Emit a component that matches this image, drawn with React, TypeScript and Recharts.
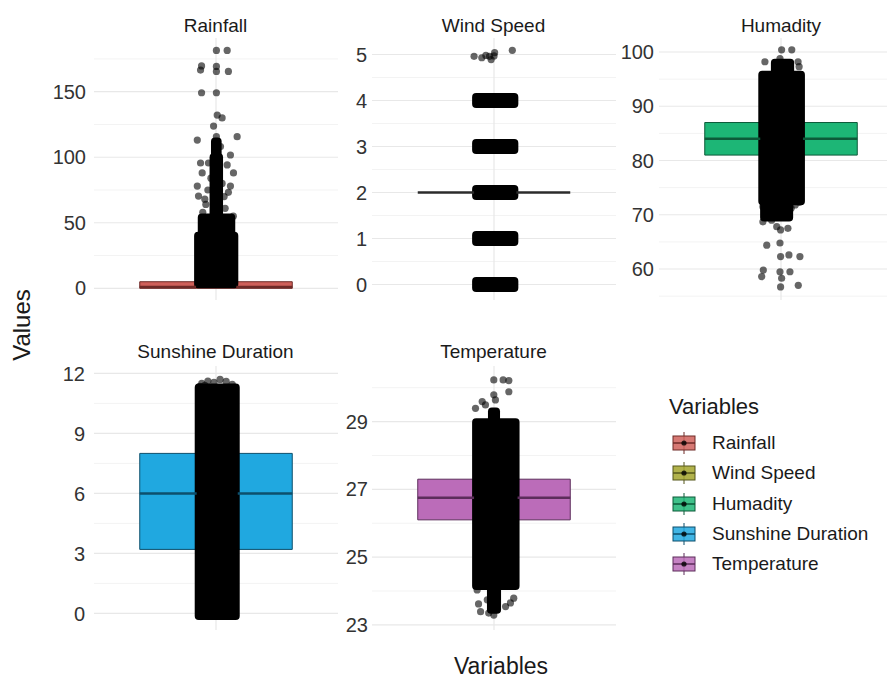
import React from 'react';
import {
  ComposedChart,
  XAxis,
  YAxis,
  CartesianGrid,
  ReferenceArea,
  ReferenceLine,
  Scatter,
} from 'recharts';

const variables = ['Rainfall', 'Wind Speed', 'Humadity', 'Sunshine Duration', 'Temperature'];
const boxFills = ['#cf605a', '#a3a52c', '#1db676', '#20a8e0', '#bb6cb9'];
const boxEdges = ['#6e2a27', '#2b2b2b', '#0c5a39', '#0d4f6c', '#5c2d5b'];

// box stats: [q1, median, q3]
const rainfallBox = [0, 1, 5];
const windBox = [2, 2, 2];
const humidityBox = [81, 84, 87];
const sunshineBox = [3.2, 6, 8];
const temperatureBox = [26.1, 26.75, 27.3];

// y ticks (major) and minor grid values
const rainfallTicks = [0, 50, 100, 150];
const rainfallMinor = [25, 75, 125, 175];
const windTicks = [0, 1, 2, 3, 4, 5];
const windMinor = [0.5, 1.5, 2.5, 3.5, 4.5];
const humidityTicks = [60, 70, 80, 90, 100];
const humidityMinor = [55, 65, 75, 85, 95];
const sunshineTicks = [0, 3, 6, 9, 12];
const sunshineMinor = [1.5, 4.5, 7.5, 10.5];
const temperatureTicks = [23, 25, 27, 29];
const temperatureMinor = [24, 26, 28, 30];

// dense part of the jittered points: [x1, x2, y1, y2]
const rainfallCloud = [
  [0.912, 1.09, 3, 40],
  [0.93, 1.075, 40, 54],
  [0.988, 1.015, 54, 100],
  [0.995, 1.008, 100, 112],
];
const windCloud = [
  [0.912, 1.1, -0.075, 0.075],
  [0.912, 1.1, 0.925, 1.075],
  [0.912, 1.1, 1.925, 2.075],
  [0.912, 1.1, 2.925, 3.075],
  [0.912, 1.1, 3.925, 4.075],
];
const humidityCloud = [
  [0.908, 1.098, 72.5, 95.8],
  [0.917, 1.04, 69.5, 72.5],
  [0.97, 1.045, 95.8, 98],
];
const sunshineCloud = [[0.915, 1.097, -0.13, 11.3]];
const temperatureCloud = [
  [0.912, 1.106, 24.15, 28.98],
  [0.985, 1.015, 23.45, 24.15],
  [0.99, 1.01, 28.98, 29.3],
];

// sparse jittered points: [x, y]
const rainfallPoints = [
  [1.002, 181.5], [1.055, 181.5], [0.929, 169.7], [0.924, 166.5], [1.002, 169.3],
  [1.002, 165.5], [1.061, 165.5], [0.929, 149.2], [1.002, 149.2], [1.006, 132.2],
  [1.03, 130], [0.988, 123.8], [0.908, 113.1], [1.104, 115.7], [1.002, 115.7],
  [1.022, 108.1], [1.071, 101.7], [0.924, 95.6], [0.963, 95.6], [1.055, 94.1],
  [1.086, 88], [0.932, 88], [0.908, 78], [1.071, 78], [0.914, 70.4], [1.061, 73.2],
  [0.95, 64], [1.045, 61], [0.975, 84], [1.012, 91], [0.99, 99], [1.0, 104],
  [0.935, 58], [1.085, 55], [1.03, 80], [0.96, 75], [1.04, 70], [0.945, 68],
];
const windPoints = [
  [0.902, 4.96], [0.94, 4.93], [0.978, 4.96], [0.986, 4.89], [1.003, 5.04],
  [1.09, 5.09], [0.96, 4.98], [1.0, 4.97],
];
const humidityPoints = [
  [1.003, 100.4], [1.053, 100.4], [0.995, 98.8], [0.921, 98.2], [1.084, 98.2],
  [1.089, 97.3], [0.911, 71.5], [0.921, 70], [0.911, 68.7], [0.954, 69],
  [0.979, 67.8], [0.998, 67.2], [1.034, 67.5], [0.995, 64.8], [0.93, 64.4],
  [1.039, 62.6], [1.093, 62.3], [0.998, 62.3], [0.913, 59.8], [0.905, 58.6],
  [0.995, 59.5], [1.003, 58.3], [1.044, 59.5], [1.085, 57], [0.998, 56.7],
  [1.07, 71.8], [1.09, 72.3], [1.05, 71.2],
];
const sunshinePoints = [
  [0.93, 11.5], [0.96, 11.62], [0.99, 11.55], [1.02, 11.7], [1.05, 11.6],
  [1.08, 11.45], [0.945, 11.4], [1.06, 11.3], [0.92, 11.35], [1.09, 11.3],
];
const temperaturePoints = [
  [0.999, 30.23], [1.045, 30.23], [1.073, 30.21], [1.073, 29.88], [0.999, 29.79],
  [0.909, 29.39], [0.942, 29.59], [0.958, 29.49], [0.999, 29.24], [1.007, 29.64],
  [1.096, 28.96], [0.917, 24.03], [0.967, 23.74], [1.007, 23.83], [1.097, 23.79],
  [0.934, 23.39], [0.999, 23.29], [0.974, 23.35], [1.057, 23.54], [1.081, 23.65],
  [0.924, 23.62],
];

const FONT = '"Liberation Sans", Arial, Helvetica, sans-serif';
const PLOT_W = 244;
const AXIS_W = 70;
const PAD = 16;

type PanelProps = {
  idx: number;
  center: number;
  top: number;
  height: number;
  titleY: number;
  domain: number[];
  ticks: number[];
  minor: number[];
  box: number[];
  cloud: number[][];
  points: number[][];
  gap: number;
};

const Dot = (p: any) => <circle cx={p.cx} cy={p.cy} r={3.6} fill="#000" fillOpacity={0.6} />;

function Panel({ idx, center, top, height, titleY, domain, ticks, minor, box, cloud, points, gap }: PanelProps) {
  const fill = boxFills[idx];
  const edge = boxEdges[idx];
  const pts = points.map(([x, y]) => ({ x, y }));
  // the median is hidden behind the point cloud, so draw it on both sides only
  const under = cloud.find((c) => c[2] - 0.02 * (domain[1] - domain[0]) <= box[1] && box[1] <= c[3] + 0.02 * (domain[1] - domain[0]));
  const medianParts = under
    ? [
        [0.625, under[0] - 0.01],
        [under[1] + 0.01, 1.375],
      ]
    : [[0.625, 1.375]];
  return (
    <>
      <div
        style={{
          position: 'absolute',
          left: center - 150,
          width: 300,
          top: titleY - 12,
          lineHeight: '24px',
          textAlign: 'center',
          fontSize: 19,
          color: '#1a1a1a',
        }}
      >
        {variables[idx]}
      </div>
      <div style={{ position: 'absolute', left: center - PLOT_W / 2 - AXIS_W, top: top - PAD }}>
        <ComposedChart
          width={AXIS_W + PLOT_W}
          height={height + PAD * 2}
          margin={{ top: PAD, right: 0, bottom: PAD, left: 0 }}
        >
          <CartesianGrid horizontalValues={minor} vertical={false} stroke="#f3f3f3" strokeWidth={1} />
          <CartesianGrid horizontalValues={ticks} verticalValues={[1]} stroke="#e8e8e8" strokeWidth={1.2} />
          <XAxis type="number" dataKey="x" domain={[0.4, 1.6]} hide allowDataOverflow />
          <YAxis
            type="number"
            dataKey="y"
            domain={domain}
            ticks={ticks}
            interval={0}
            allowDataOverflow
            width={AXIS_W}
            axisLine={false}
            tickLine={false}
            tickSize={0}
            tickMargin={gap}
            tick={{ fill: '#333', fontSize: 20, fontFamily: FONT }}
          />
          {box[0] !== box[2] && (
            <ReferenceArea
              x1={0.625}
              x2={1.375}
              y1={box[0]}
              y2={box[2]}
              fill={fill}
              fillOpacity={1}
              stroke={edge}
              strokeWidth={1}
            />
          )}
          {medianParts.map((m, i) => (
            <ReferenceLine
              key={`m${i}`}
              segment={[
                { x: m[0], y: box[1] },
                { x: m[1], y: box[1] },
              ]}
              stroke={edge}
              strokeWidth={2.5}
            />
          ))}
          {cloud.map((c, i) => (
            <ReferenceArea
              key={i}
              x1={c[0]}
              x2={c[1]}
              y1={c[2]}
              y2={c[3]}
              fill="#000"
              fillOpacity={1}
              stroke="#000"
              strokeWidth={8}
              strokeLinejoin="round"
              ifOverflow="visible"
            />
          ))}
          <Scatter data={pts} isAnimationActive={false} shape={Dot} />
        </ComposedChart>
      </div>
    </>
  );
}

function LegendKey({ idx }: { idx: number }) {
  const fill = boxFills[idx];
  const edge = boxEdges[idx] === '#2b2b2b' ? '#55561a' : boxEdges[idx];
  return (
    <svg width={26} height={22} style={{ display: 'block' }}>
      <line x1={13} y1={0} x2={13} y2={22} stroke={edge} strokeWidth={1} />
      <rect x={2} y={4} width={22} height={14} fill={fill} fillOpacity={0.85} stroke={edge} strokeWidth={1} />
      <line x1={2} y1={11} x2={24} y2={11} stroke={edge} strokeWidth={1.5} />
      <circle cx={13} cy={11} r={2.6} fill="#000" fillOpacity={0.8} />
    </svg>
  );
}

export default function App() {
  const rowTop1 = 38;
  const rowH1 = 262;
  const rowTop2 = 366;
  const rowH2 = 264;
  return (
    <div
      style={{
        position: 'absolute',
        left: 0,
        top: 0,
        width: 887,
        height: 679,
        overflow: 'hidden',
        background: '#fff',
        fontFamily: FONT,
      }}
    >
      <Panel idx={0} center={215.5} top={rowTop1} height={rowH1} titleY={26}
        domain={[-8.93, 190.97]} ticks={rainfallTicks} minor={rainfallMinor}
        box={rainfallBox} cloud={rainfallCloud} points={rainfallPoints} gap={8} />
      <Panel idx={1} center={493.5} top={rowTop1} height={rowH1} titleY={26}
        domain={[-0.337, 5.359]} ticks={windTicks} minor={windMinor}
        box={windBox} cloud={windCloud} points={windPoints} gap={5} />
      <Panel idx={2} center={781} top={rowTop1} height={rowH1} titleY={26}
        domain={[54.29, 102.58]} ticks={humidityTicks} minor={humidityMinor}
        box={humidityBox} cloud={humidityCloud} points={humidityPoints} gap={5} />
      <Panel idx={3} center={215.5} top={rowTop2} height={rowH2} titleY={352}
        domain={[-0.83, 12.37]} ticks={sunshineTicks} minor={sunshineMinor}
        box={sunshineBox} cloud={sunshineCloud} points={sunshinePoints} gap={9} />
      <Panel idx={4} center={493.5} top={rowTop2} height={rowH2} titleY={352}
        domain={[22.85, 30.64]} ticks={temperatureTicks} minor={temperatureMinor}
        box={temperatureBox} cloud={temperatureCloud} points={temperaturePoints} gap={4} />

      <div
        style={{
          position: 'absolute',
          left: 22 - 60,
          top: 325 - 15,
          width: 120,
          lineHeight: '30px',
          textAlign: 'center',
          fontSize: 24,
          color: '#1a1a1a',
          transform: 'rotate(-90deg)',
        }}
      >
        Values
      </div>
      <div
        style={{
          position: 'absolute',
          left: 501 - 100,
          top: 666 - 14,
          width: 200,
          lineHeight: '28px',
          textAlign: 'center',
          fontSize: 23,
          color: '#1a1a1a',
        }}
      >
        Variables
      </div>

      <div style={{ position: 'absolute', left: 669, top: 407 - 14, lineHeight: '28px', fontSize: 22, color: '#1a1a1a' }}>
        Variables
      </div>
      {variables.map((v, i) => (
        <div key={v} style={{ position: 'absolute', left: 671, top: 443 + i * 30.3 - 11, height: 22, display: 'flex', alignItems: 'center' }}>
          <LegendKey idx={i} />
          <span style={{ marginLeft: 15, fontSize: 19, color: '#1a1a1a', whiteSpace: 'nowrap' }}>{v}</span>
        </div>
      ))}
    </div>
  );
}
